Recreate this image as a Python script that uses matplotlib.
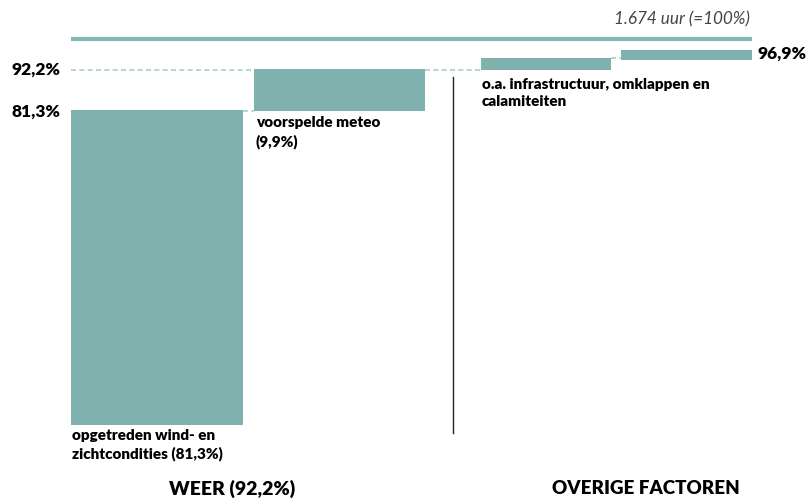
import matplotlib
matplotlib.use("Agg")
import matplotlib.pyplot as plt

plt.rcParams['font.family'] = ['Lato', 'DejaVu Sans']

# Data
steps = ["opgetreden wind- en\nzichtcondities (81,3%)", "voorspelde meteo\n(9,9%)",
         "o.a. infrastructuur, omklappen en\ncalamiteiten", ""]
bottoms = [0.0, 81.0, 91.7, 94.2]
tops = [81.3, 92.0, 94.7, 96.9]
level_labels = ["81,3%", "92,2%"]
level_values = [81.3, 92.2]
end_label = "96,9%"
end_value = 96.9
total_label = "1.674 uur (=100%)"
total_value = 100.0
groups = ["WEER (92,2%)", "OVERIGE FACTOREN"]

# Layout (pixels along x)
lefts = [71, 254, 481, 621]
widths = [172, 171, 130, 131]
bar_color = "#7FB2AE"
dash_color = "#A9CFCB"
FW = 'heavy'

fig = plt.figure(figsize=(8.08, 4.98), dpi=100)
ax = fig.add_axes([0, 0, 1, 1])
ax.set_xlim(0, 808)
ax.set_ylim(-18.87, 109.81)
ax.axis('off')

for l, w, b, t in zip(lefts, widths, bottoms, tops):
    ax.bar(l, t - b, width=w, bottom=b, align='edge', color=bar_color, linewidth=0)

# connectors
ds = (0, (3, 2))
ax.plot([lefts[0] + widths[0], lefts[1]], [bottoms[1] + 0.1, bottoms[1] + 0.1], ls=ds, color=dash_color, lw=1.2)
ax.plot([lefts[0], lefts[1]], [tops[1] - 0.2, tops[1] - 0.2], ls=ds, color=dash_color, lw=1.2)
ax.plot([lefts[1] + widths[1], lefts[2]], [tops[1] - 0.2, tops[1] - 0.2], ls=ds, color=dash_color, lw=1.2)
ax.plot([lefts[2] + widths[2], lefts[3]], [tops[2], tops[2]], ls=ds, color=dash_color, lw=1.2)

# total line
ax.plot([71, 752], [total_value - 0.2, total_value - 0.2], color="#7FBAB4", lw=3, solid_capstyle='butt')
ax.text(750, total_value + 2.6, total_label, ha='right', va='bottom', style='italic',
        fontsize=12.3, color="#444444")

# separator
ax.plot([453, 453], [-2.1, 89.9], color="#222222", lw=1)

# level labels
ax.text(60, level_values[1] - 0.5, level_labels[1], ha='right', va='center', fontsize=12.5, fontweight=FW)
ax.text(60, level_values[0] - 0.3, level_labels[0], ha='right', va='center', fontsize=12.5, fontweight=FW)
ax.text(758, end_value - 1.0, end_label, ha='left', va='center', fontsize=12.5, fontweight=FW)

# step labels
ax.text(72, -1.0, steps[0], ha='left', va='top', fontsize=11, fontweight=FW, linespacing=1.4)
ax.text(256, 79.8, steps[1], ha='left', va='top', fontsize=11, fontweight=FW, linespacing=1.4)
ax.text(482, 89.7, steps[2], ha='left', va='top', fontsize=11, fontweight=FW, linespacing=1.4)

# group labels
ax.text(232, -16.5, groups[0], ha='center', va='center', fontsize=14, fontweight=FW)
ax.text(646, -16.5, groups[1], ha='center', va='center', fontsize=13.5, fontweight=FW)

fig.savefig("out.png", dpi=100)
